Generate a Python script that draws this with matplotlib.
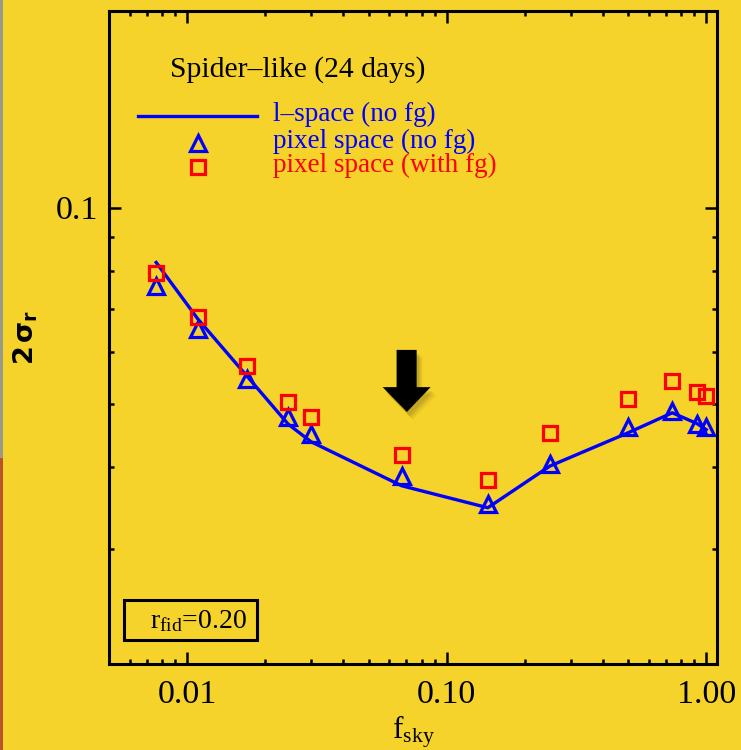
import numpy as np
import matplotlib
matplotlib.use('Agg')
import matplotlib.pyplot as plt
from matplotlib.ticker import FixedLocator, NullFormatter, LogLocator
from matplotlib.patches import Polygon, Rectangle

plt.rcParams['font.family'] = 'Liberation Serif'
plt.rcParams['mathtext.fontset'] = 'custom'
plt.rcParams['mathtext.rm'] = 'Liberation Serif'
plt.rcParams['mathtext.it'] = 'Liberation Serif:italic'
plt.rcParams['mathtext.bf'] = 'DejaVu Sans:bold'

bg = '#F6D32B'

# sky fractions and 2-sigma errors on r
fsky = [0.0076, 0.011, 0.017, 0.0245, 0.030, 0.067, 0.144, 0.25, 0.50, 0.74, 0.92, 1.0]
sig_lspace = [0.0824, 0.0675, 0.0552, 0.0466, 0.0438, 0.0375, 0.0347, 0.0402,
              0.0452, 0.0485, 0.0467, 0.0457]
sig_pix_nofg = [0.0758, 0.0651, 0.0546, 0.0478, 0.0450, 0.0388, 0.0352, 0.0405,
                0.0461, 0.0488, 0.0467, 0.0461]
sig_pix_fg = [0.0793, 0.0679, 0.0572, 0.0504, 0.0478, 0.0418, 0.0383, 0.0452,
              0.0509, 0.0543, 0.0522, 0.0514]

xticks = [0.01, 0.1, 1.0]
xticklabels = ['0.01', '0.10', '1.00']

fig = plt.figure(figsize=(7.41, 7.5), dpi=100, facecolor=bg)
ax = fig.add_axes([109/741, 1-664/750, 608/741, 653/750], facecolor=bg)

ax.plot(fsky, sig_lspace, color='#0000FF', lw=2.4, zorder=3)
ax.plot(fsky, sig_pix_nofg, ls='none', marker='^', ms=11.5, mfc='none',
        mec='#0000FF', mew=2.3, zorder=4)
ax.plot(fsky, sig_pix_fg, ls='none', marker='s', ms=10, mfc='none',
        mec='#FF0000', mew=2.3, zorder=5)

ax.set_xscale('log')
ax.set_yscale('log')
ax.set_xlim(0.005, 1.1)
ax.set_ylim(0.02, 0.2)

ax.xaxis.set_major_locator(FixedLocator(xticks))
ax.set_xticklabels(xticklabels)
ax.xaxis.set_minor_locator(LogLocator(base=10, subs=np.arange(2, 10)))
ax.xaxis.set_minor_formatter(NullFormatter())
ax.yaxis.set_major_locator(FixedLocator([0.1]))
ax.set_yticklabels(['0.1'])
ax.yaxis.set_minor_locator(LogLocator(base=10, subs=np.arange(2, 10)))
ax.yaxis.set_minor_formatter(NullFormatter())

ax.tick_params(which='both', direction='in', top=True, right=True, width=1.8,
               labelsize=24.5)
ax.tick_params(which='major', length=8.6)
ax.tick_params(which='minor', length=3.6)
ax.tick_params(axis='x', which='major', pad=11.5)
ax.tick_params(axis='y', which='major', pad=8)
for s in ax.spines.values():
    s.set_linewidth(2.2)

ax.set_xlabel(r'$\mathrm{f}_{\mathrm{sky}}$', fontsize=22.5, labelpad=2)
ax.set_ylabel(r'$\mathbf{2\,\sigma_{r}}$', fontsize=19.5, labelpad=11)

# title and legend written as plain text
ax.text(0.1, 0.911, 'Spider\u2013like (24 days)', transform=ax.transAxes,
        fontsize=21.3, va='center', ha='left')
ax.plot([0.047, 0.244], [0.839, 0.839], transform=ax.transAxes,
        color='#0000FF', lw=2.4, clip_on=False)
ax.plot([0.146], [0.798], transform=ax.transAxes, marker='^', ms=11.5,
        mfc='none', mec='#0000FF', mew=2.3)
ax.plot([0.146], [0.761], transform=ax.transAxes, marker='s', ms=10,
        mfc='none', mec='#FF0000', mew=2.3)
ax.text(0.27, 0.842, 'l\u2013space (no fg)', transform=ax.transAxes,
        fontsize=19.5, va='center', color='#0000FF')
ax.text(0.27, 0.800, 'pixel space (no fg)', transform=ax.transAxes,
        fontsize=19.5, va='center', color='#0000FF')
ax.text(0.27, 0.763, 'pixel space (with fg)', transform=ax.transAxes,
        fontsize=19.5, va='center', color='#FF0000')

# r_fid box
ax.add_patch(Rectangle((0.0247, 0.0368), 0.2187, 0.0612, transform=ax.transAxes,
                       fc='none', ec='black', lw=2.2))
ax.text(0.0674, 0.0551, r'r$_{\mathrm{fid}}$=0.20', transform=ax.transAxes,
        fontsize=20, va='baseline', ha='left')

# arrow pointing at the chosen patch size, with a soft drop shadow
arrow = np.array([[0.473, 0.481], [0.506, 0.481], [0.506, 0.424], [0.529, 0.424],
                  [0.490, 0.386], [0.450, 0.424], [0.473, 0.424]])
for dx, dy, a in [(0.010, -0.012, 0.06), (0.008, -0.010, 0.08),
                  (0.006, -0.008, 0.10), (0.004, -0.006, 0.12)]:
    ax.add_patch(Polygon(arrow + [dx, dy], closed=True, transform=ax.transAxes,
                         fc='#5a4a10', ec='none', alpha=a, zorder=6))
ax.add_patch(Polygon(arrow, closed=True, transform=ax.transAxes, fc='black',
                     ec='none', zorder=7))

# thin strip at the far left edge
fig.patches.append(Rectangle((0, 0.39), 2.5/741, 0.61, transform=fig.transFigure,
                             fc='#9a9a8a', ec='none'))
fig.patches.append(Rectangle((0, 0), 2.5/741, 0.39, transform=fig.transFigure,
                             fc='#b8552a', ec='none'))

fig.savefig('out.png', dpi=100, facecolor=bg)
